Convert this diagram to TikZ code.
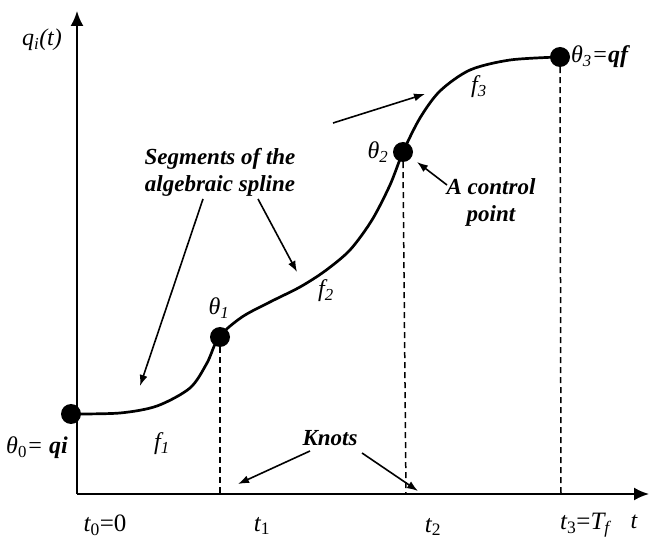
\documentclass[tikz,border=0pt]{standalone}
\usepackage{fontspec}
\setmainfont{Liberation Serif}
\usetikzlibrary{arrows.meta}
\begin{document}
\begin{tikzpicture}[x=1pt,y=-1pt,
  dot/.style={circle,fill=black,inner sep=0pt,minimum size=20pt},
  lbl/.style={font=\fontsize{24}{26}\selectfont\itshape, inner sep=0pt},
  tlbl/.style={font=\fontsize{25}{27}\selectfont, inner sep=0pt},
  note/.style={font=\fontsize{23}{27}\selectfont\bfseries\itshape, align=center, inner sep=1pt},
  conn/.style={line width=1.6pt,-{Latex[length=11pt,width=8pt]}},
  axis/.style={line width=2pt,-{Latex[length=15pt,width=13pt]}},
  knot/.style={line width=1.5pt,dash pattern=on 6pt off 4pt},
  spline/.style={line width=2.7pt,line cap=round}]
\useasboundingbox (0,0) rectangle (649,540);
% axes
\coordinate (O) at (77,494);
\coordinate (ytip) at (77,11);
\coordinate (xtip) at (649,494);
\draw[axis] (O) -- (ytip);
\draw[axis] (O) -- (xtip);
% spline
\draw[spline] plot[smooth,tension=0.5] coordinates {(71,414) (120,413) (157,406) (190,388) (207,363) (219,337) (242,317) (270,302) (300,287) (325,271) (350,250) (372,220) (390,185) (403,152) (420,118) (440,91) (470,70) (510,60) (559,57)};
% control points
\node[dot] (th0) at (71,414) {};
\node[dot] (th1) at (220,337) {};
\node[dot] (th2) at (403,152) {};
\node[dot] (th3) at (560,57) {};
% knots on axis
\coordinate (k1) at (220,494);
\coordinate (k2) at (406,494);
\coordinate (k3) at (561,494);
\draw[knot] (th1.south) -- (k1);
\draw[knot] (th2.south) -- (k2);
\draw[knot] (th3.south) -- (k3);
% labels
\node[lbl] (qlab) at (42,40) {q\textsubscript{i}(t)};
\node[lbl] (th0lab) at (37,448) {θ\textsubscript{\upshape 0}= {\bfseries qi}};
\node[lbl] (f1) at (162,444) {f\textsubscript{1}};
\node[lbl] (th1lab) at (219,308) {θ\textsubscript{1}};
\node[lbl] (f2) at (326,291) {f\textsubscript{2}};
\node[lbl] (th2lab) at (378,152) {θ\textsubscript{2}};
\node[lbl] (f3) at (479,87) {f\textsubscript{3}};
\node[lbl,anchor=west] (th3lab) at (571,57) {θ\textsubscript{3}={\bfseries qf}};
\node[tlbl] (t0) at (105,525) {{\itshape t}\textsubscript{0}=0};
\node[tlbl] (t1) at (262,526) {{\itshape t}\textsubscript{1}};
\node[tlbl] (t2) at (433,527) {{\itshape t}\textsubscript{2}};
\node[tlbl] (t3) at (585,525) {{\itshape t}\textsubscript{3}=\itshape T\textsubscript{f}};
\node[lbl] (tax) at (634,522) {t};
% notes
\node[note] (seg) at (220,172) {Segments of the\\algebraic spline};
\node[note] (ctrl) at (491,202) {A control\\point};
\node[note] (knots) at (330,438) {Knots};
% connectors
\coordinate (s1) at (140,386);
\coordinate (s2) at (297,272);
\coordinate (s3) at (425,94);
\coordinate (c1) at (417,162);
\coordinate (kn1) at (238,484);
\coordinate (kn2) at (418,491);
\draw[conn] (203,199) -- (s1);
\draw[conn] (258,199) -- (s2);
\draw[conn] (333,123) -- (s3);
\draw[conn] (447,185) -- (c1);
\draw[conn] (310,451) -- (kn1);
\draw[conn] (362,453) -- (kn2);
\end{tikzpicture}
\end{document}
